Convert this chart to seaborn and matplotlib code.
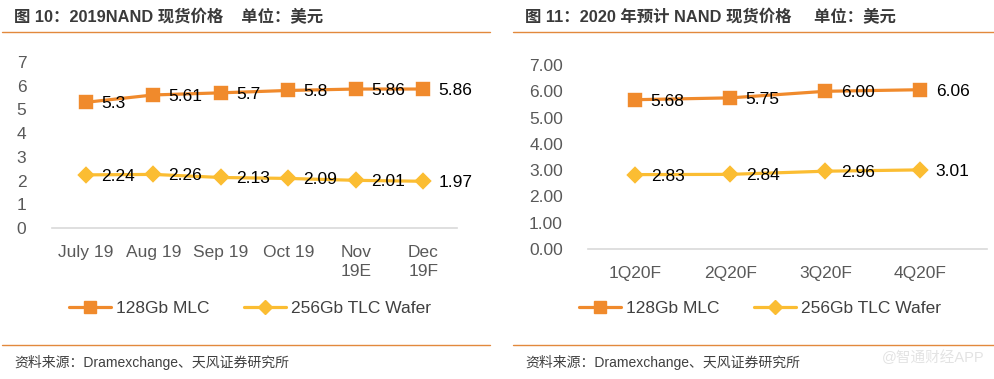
import pandas as pd
import matplotlib
matplotlib.use("Agg")
import matplotlib.pyplot as plt
import seaborn as sns

# 数据
months_2019 = ["July 19", "Aug 19", "Sep 19", "Oct 19", "Nov\n19E", "Dec\n19F"]
mlc_2019 = [5.3, 5.61, 5.7, 5.8, 5.86, 5.86]
tlc_2019 = [2.24, 2.26, 2.13, 2.09, 2.01, 1.97]
mlc_2019_labels = ["5.3", "5.61", "5.7", "5.8", "5.86", "5.86"]
tlc_2019_labels = ["2.24", "2.26", "2.13", "2.09", "2.01", "1.97"]

quarters_2020 = ["1Q20F", "2Q20F", "3Q20F", "4Q20F"]
mlc_2020 = [5.68, 5.75, 6.00, 6.06]
tlc_2020 = [2.83, 2.84, 2.96, 3.01]

series_names = ["128Gb MLC", "256Gb TLC Wafer"]
colors = ["#F08A2C", "#FBBD32"]

sns.set_theme(style="white")
plt.rcParams["font.family"] = ["Liberation Sans", "Noto Sans CJK SC"]

fig = plt.figure(figsize=(9.95, 3.79), dpi=100)

W, H = 995.0, 379.0

def fx(px):
    return px / W

def fy(py):
    return 1 - py / H

tick_color = "#595959"
rule_color = "#E2893C"


def draw_panel(ax, cats, mlc, tlc, mlc_txt, tlc_txt, xlim, yfmt, ypad, ylab_ha):
    df = pd.concat([
        pd.DataFrame({"cat": cats, "price": mlc, "series": series_names[0]}),
        pd.DataFrame({"cat": cats, "price": tlc, "series": series_names[1]}),
    ])
    sns.pointplot(data=df, x="cat", y="price", hue="series", order=cats,
                  hue_order=series_names, palette=colors, markers=["s", "D"],
                  linestyles="-", ax=ax, markersize=9, linewidth=2.3,
                  errorbar=None, legend=False)
    # 菱形稍小
    for ln in ax.lines:
        if ln.get_marker() == "D":
            ln.set_markersize(7.5)
    for vals, txts in [(mlc, mlc_txt), (tlc, tlc_txt)]:
        for i, (v, t) in enumerate(zip(vals, txts)):
            ax.annotate(t, (i, v), xytext=(11, -1), textcoords="offset points",
                        ha="left", va="center", fontsize=12.5, color="black")
    ax.set_xlim(*xlim)
    ax.set_ylim(0, 7)
    ax.set_yticks(range(0, 8))
    ax.set_yticklabels([yfmt.format(v) for v in range(0, 8)], ha=ylab_ha)
    ax.set_xlabel("")
    ax.set_ylabel("")
    for s in ["top", "right", "left"]:
        ax.spines[s].set_visible(False)
    ax.spines["bottom"].set_color("#D9D9D9")
    ax.spines["bottom"].set_linewidth(1.2)
    ax.tick_params(axis="both", length=0, labelsize=12.5, colors=tick_color)
    ax.tick_params(axis="x", pad=12)
    ax.tick_params(axis="y", pad=ypad)
    ax.set_facecolor("white")


# 左图
ax1 = fig.add_axes([fx(52), fy(228), fx(457 - 52), (228 - 62) / H])
draw_panel(ax1, months_2019, mlc_2019, tlc_2019, mlc_2019_labels, tlc_2019_labels,
           (-0.5, 5.5), "{:d}", 22, "center")
for lab in ax1.get_xticklabels():
    lab.set_verticalalignment("top")
    lab.set_linespacing(1.4)

# 右图
ax2 = fig.add_axes([fx(588), fy(249), fx(987 - 588), (249 - 65) / H])
draw_panel(ax2, quarters_2020, mlc_2020, tlc_2020,
           ["{:.2f}".format(v) for v in mlc_2020], ["{:.2f}".format(v) for v in tlc_2020],
           (-0.5, 3.7), "{:.2f}", 18, "right")
ax2.set_yticklabels(["{:.2f}".format(v) for v in range(0, 8)])

# 图例
for ax, cx in [(ax1, 250), (ax2, 760)]:
    handles = [plt.Line2D([], [], color=colors[0], marker="s", markersize=9, lw=2.3),
               plt.Line2D([], [], color=colors[1], marker="D", markersize=7.5, lw=2.3)]
    fig.legend(handles, series_names, loc="center", bbox_to_anchor=(fx(cx), fy(308)),
               ncol=2, frameon=False, fontsize=12.5, handlelength=2.4,
               columnspacing=2.0, handletextpad=0.3, labelcolor="#404040")

# 标题、分隔线、来源
fig.text(fx(14), fy(17), "图 10：2019NAND 现货价格    单位：美元", fontsize=11.8,
         fontweight="bold", color="#3A3A3A", va="center", ha="left")
fig.text(fx(525), fy(17), "图 11：2020 年预计 NAND 现货价格     单位：美元", fontsize=11.8,
         fontweight="bold", color="#3A3A3A", va="center", ha="left")
for x0, x1 in [(2, 490), (513, 995)]:
    for yy in [32, 345]:
        fig.add_artist(plt.Line2D([fx(x0), fx(x1)], [fy(yy), fy(yy)], color=rule_color,
                                  lw=1.0, transform=fig.transFigure))
fig.text(fx(14), fy(362), "资料来源：Dramexchange、天风证券研究所", fontsize=10,
         color="#404040", va="center", ha="left")
fig.text(fx(525), fy(362), "资料来源：Dramexchange、天风证券研究所", fontsize=10,
         color="#404040", va="center", ha="left")
fig.text(fx(985), fy(358), "@智通财经APP", fontsize=10.5, color="#E3E3E3",
         va="center", ha="right")

fig.savefig("out.png", dpi=100, facecolor="white")
